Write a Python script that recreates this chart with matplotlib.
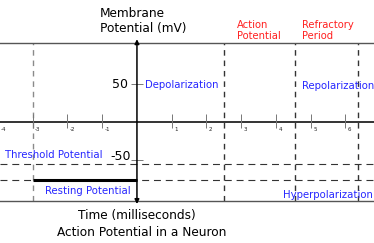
"""Action potential diagram: membrane potential vs time."""

import matplotlib
matplotlib.use("Agg")
import matplotlib.pyplot as plt

# axis ticks
time_ticks = [-4, -3, -2, -1, 1, 2, 3, 4, 5, 6]
time_labels = ["-4", "-3", "-2", "-1", "1", "2", "3", "4", "5", "6"]
volt_ticks = [50, -50]
volt_labels = ["50", "-50"]

# reference levels (mV) and phase boundaries (ms)
threshold_mv = -55
resting_mv = -76
resting_span = [-3, 0]
phase_bounds = [-3, 2.5, 4.55, 6.35]
phase_colors = ["#8a8a8a", "#333333", "#333333", "#333333"]

x_lim = (-3.94, 6.82)
y_lim = (-104, 104)

BLUE = "#2626ff"
RED = "#ff2020"

plt.rcParams["lines.scale_dashes"] = False

fig = plt.figure(figsize=(3.74, 2.43), dpi=100)
ax = fig.add_axes([0, 42 / 243, 1, 158 / 243])
ax.set_xlim(*x_lim)
ax.set_ylim(*y_lim)
ax.set_xticks([])
ax.set_yticks([])
for side in ["left", "right"]:
    ax.spines[side].set_visible(False)
for side in ["top", "bottom"]:
    ax.spines[side].set_color("#555555")
    ax.spines[side].set_linewidth(1.0)

# dashed guides
for xb, col in zip(phase_bounds, phase_colors):
    ax.axvline(xb, color=col, lw=1.0, dashes=(4, 3.5))
for lvl in [threshold_mv, resting_mv]:
    ax.axhline(lvl, color="#333333", lw=0.8, dashes=(5, 3.5))

# resting stretch
ax.plot(resting_span, [resting_mv, resting_mv], color="black", lw=2.2,
        solid_capstyle="butt")

# time axis
ax.axhline(0, color="#333333", lw=1.4)
ax.vlines(time_ticks, -8, 10, color="#777777", lw=0.7)
for t, lab in zip(time_ticks, time_labels):
    ax.text(t + 0.07, -10, lab, fontsize=4, color="#222222",
            ha="left", va="center")

# voltage axis with arrows
ax.annotate("", xy=(0, y_lim[1] + 5), xytext=(0, y_lim[0] - 4),
            annotation_clip=False,
            arrowprops=dict(arrowstyle="<|-|>", color="black", lw=1.1,
                            mutation_scale=6.5, shrinkA=0, shrinkB=0))
ax.hlines(volt_ticks, -0.17, 0.17, color="#777777", lw=0.7)
ax.text(-0.26, 50, volt_labels[0], fontsize=9, ha="right", va="center")
ax.text(-0.17, -46, volt_labels[1], fontsize=9, ha="right", va="center")

# labels
ax.text(-1.06, 118, "Membrane\nPotential (mV)", fontsize=8.7,
        ha="left", va="baseline", clip_on=False)
ax.text(0.23, 48.7, "Depolarization", fontsize=7.3, color=BLUE,
        ha="left", va="center")
ax.text(2.88, 109, "Action\nPotential", fontsize=7.2, color=RED,
        ha="left", va="baseline", clip_on=False)
ax.text(4.75, 109, "Refractory\nPeriod", fontsize=7.2, color=RED,
        ha="left", va="baseline", clip_on=False)
ax.text(4.75, 47, "Repolarization", fontsize=7.3, color=BLUE,
        ha="left", va="center", clip_on=False)
ax.text(-3.8, -43, "Threshold Potential", fontsize=7.3, color=BLUE,
        ha="left", va="center")
ax.text(-2.65, -91, "Resting Potential", fontsize=7.3, color=BLUE,
        ha="left", va="center")
ax.text(4.2, -96, "Hyperpolarization", fontsize=7.3, color=BLUE,
        ha="left", va="center")
ax.text(0, -123, "Time (milliseconds)", fontsize=8.7,
        ha="center", va="center", clip_on=False)
ax.text(0.15, -145, "Action Potential in a Neuron", fontsize=8.7,
        ha="center", va="center", clip_on=False)

fig.savefig("out.png", dpi=100)
plt.close(fig)
